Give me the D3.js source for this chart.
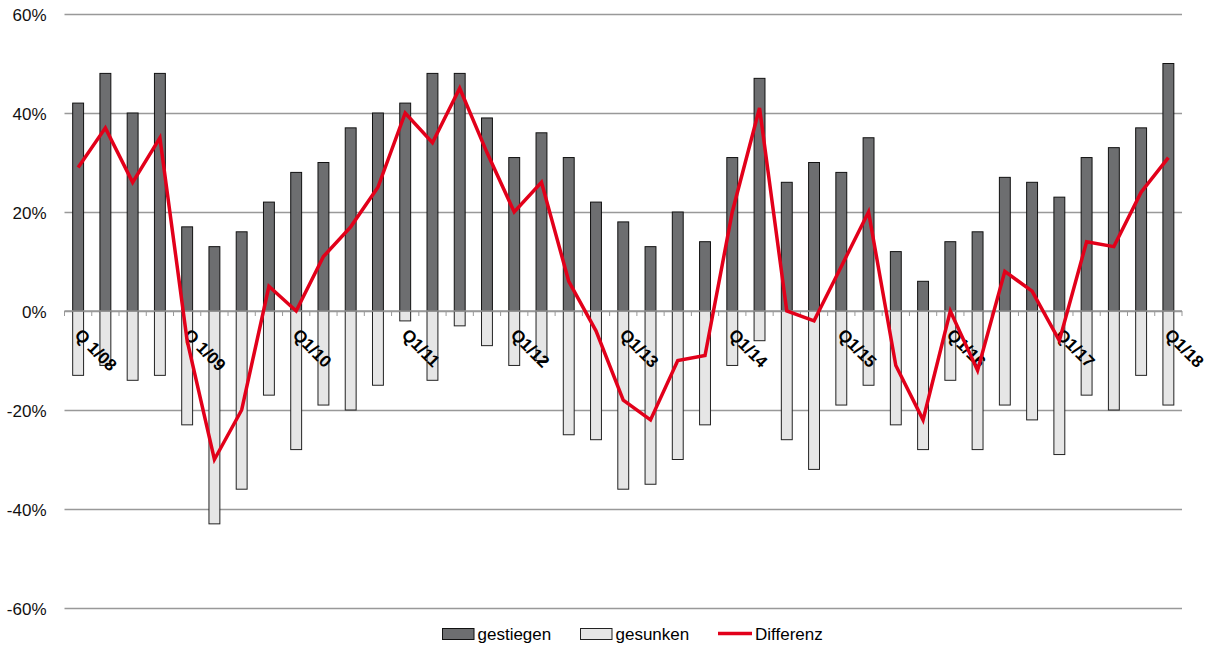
<!DOCTYPE html>
<html>
<head>
<meta charset="utf-8">
<script src="https://cdn.jsdelivr.net/npm/d3@7"></script>
<style>
  html, body { margin: 0; padding: 0; background: #fff; }
  svg { display: block; font-family: "Liberation Sans", Arial, Helvetica, sans-serif; }
</style>
</head>
<body>
<svg id="chart" width="1212" height="645"></svg>
<script>
// ---- data ----
const categories = [
  "Q1/08","Q2/08","Q3/08","Q4/08",
  "Q1/09","Q2/09","Q3/09","Q4/09",
  "Q1/10","Q2/10","Q3/10","Q4/10",
  "Q1/11","Q2/11","Q3/11","Q4/11",
  "Q1/12","Q2/12","Q3/12","Q4/12",
  "Q1/13","Q2/13","Q3/13","Q4/13",
  "Q1/14","Q2/14","Q3/14","Q4/14",
  "Q1/15","Q2/15","Q3/15","Q4/15",
  "Q1/16","Q2/16","Q3/16","Q4/16",
  "Q1/17","Q2/17","Q3/17","Q4/17",
  "Q1/18"
];
const categoryLabels = [
  "Q 1/08","","","",
  "Q 1/09","","","",
  "Q1/10","","","",
  "Q1/11","","","",
  "Q1/12","","","",
  "Q1/13","","","",
  "Q1/14","","","",
  "Q1/15","","","",
  "Q1/16","","","",
  "Q1/17","","","",
  "Q1/18"
];
const gestiegen = [42,48,40,48,17,13,16,22,28,30,37,40,42,48,48,39,31,36,31,22,18,13,20,14,31,47,26,30,28,35,12,6,14,16,27,26,23,31,33,37,50];
const gesunken  = [-13,-11,-14,-13,-23,-43,-36,-17,-28,-19,-20,-15,-2,-14,-3,-7,-11,-10,-25,-26,-36,-35,-30,-23,-11,-6,-26,-32,-19,-15,-23,-28,-14,-28,-19,-22,-29,-17,-20,-13,-19];
const differenz = [29,37,26,35,-6,-30,-20,5,0,11,17,25,40,34,45,32,20,26,6,-4,-18,-22,-10,-9,20,41,0,-2,9,20,-11,-22,0,-12,8,4,-6,14,13,24,31];
const yTicks = [-60,-40,-20,0,20,40,60];
const seriesNames = ["gestiegen","gesunken","Differenz"];

// ---- layout ----
const svg = d3.select("#chart");
const plotLeft = 64.5, plotRight = 1182, plotTop = 14, plotBottom = 608;

const x = d3.scaleBand().domain(categories).range([plotLeft, plotRight])
  .paddingInner(0.6).paddingOuter(0.3);
const y = d3.scaleLinear().domain([-60, 60]).range([plotBottom, plotTop]);

// gridlines + y labels
const yAxis = d3.axisLeft(y).tickValues(yTicks).tickSize(-(plotRight - plotLeft))
  .tickFormat(d => d + "%").tickPadding(18);
const gy = svg.append("g").attr("transform", `translate(${plotLeft},0)`).call(yAxis);
gy.select(".domain").remove();
gy.selectAll(".tick line").attr("stroke", "#999").attr("stroke-width", 1.3);
gy.selectAll(".tick text").attr("fill", "#111").style("font-size", "17px")
  .attr("dy", "0.36em");

// bars
const barG = svg.append("g");
barG.selectAll("rect.up").data(gestiegen).join("rect").attr("class", "up")
  .attr("x", (d, i) => x(categories[i]))
  .attr("width", x.bandwidth())
  .attr("y", d => y(d))
  .attr("height", d => y(0) - y(d))
  .attr("fill", "#6d6e70").attr("stroke", "#111").attr("stroke-width", 1);
barG.selectAll("rect.down").data(gesunken).join("rect").attr("class", "down")
  .attr("x", (d, i) => x(categories[i]))
  .attr("width", x.bandwidth())
  .attr("y", y(0))
  .attr("height", d => y(d) - y(0))
  .attr("fill", "#e6e6e6").attr("stroke", "#222").attr("stroke-width", 1);

// zero axis with ticks at category boundaries
const zeroG = svg.append("g");
zeroG.append("line").attr("x1", plotLeft).attr("x2", plotRight)
  .attr("y1", y(0)).attr("y2", y(0)).attr("stroke", "#999").attr("stroke-width", 1.3);
const boundaries = categories.map(c => x(c) - x.bandwidth() * 0.75).concat([plotRight]);
zeroG.selectAll("line.tk").data(boundaries).join("line").attr("class", "tk")
  .attr("x1", d => d).attr("x2", d => d)
  .attr("y1", y(0)).attr("y2", y(0) + 5)
  .attr("stroke", "#999").attr("stroke-width", 1);

// category labels (rotated)
svg.append("g").selectAll("text")
  .data(categories.map((c, i) => ({c, lab: categoryLabels[i]})).filter(d => d.lab))
  .join("text")
  .attr("transform", d => `translate(${x(d.c) + x.bandwidth() / 2 - 4.5},${y(0) + 25}) rotate(45)`)
  .attr("text-anchor", "start")
  .style("font-size", "17px").style("font-weight", "bold")
  .attr("fill", "#000")
  .text(d => d.lab);

// Differenz line
const line = d3.line()
  .x((d, i) => x(categories[i]) + x.bandwidth() / 2)
  .y(d => y(d));
svg.append("path").datum(differenz).attr("d", line)
  .attr("fill", "none").attr("stroke", "#e2001a").attr("stroke-width", 3.5)
  .attr("stroke-linejoin", "miter");

// legend
const lg = svg.append("g").style("font-size", "17px");
const ly = 634;
lg.append("rect").attr("x", 442.5).attr("y", ly - 5.5).attr("width", 31.5).attr("height", 11)
  .attr("fill", "#6d6e70").attr("stroke", "#111");
lg.append("text").attr("x", 477.5).attr("y", ly).attr("dy", "0.36em").text(seriesNames[0]);
lg.append("rect").attr("x", 580.5).attr("y", ly - 5.5).attr("width", 31.5).attr("height", 11)
  .attr("fill", "#e6e6e6").attr("stroke", "#222");
lg.append("text").attr("x", 615.5).attr("y", ly).attr("dy", "0.36em").text(seriesNames[1]);
lg.append("line").attr("x1", 718).attr("x2", 752).attr("y1", ly - 0.5).attr("y2", ly - 0.5)
  .attr("stroke", "#e2001a").attr("stroke-width", 3.5);
lg.append("text").attr("x", 755).attr("y", ly).attr("dy", "0.36em").text(seriesNames[2]);
</script>
</body>
</html>
